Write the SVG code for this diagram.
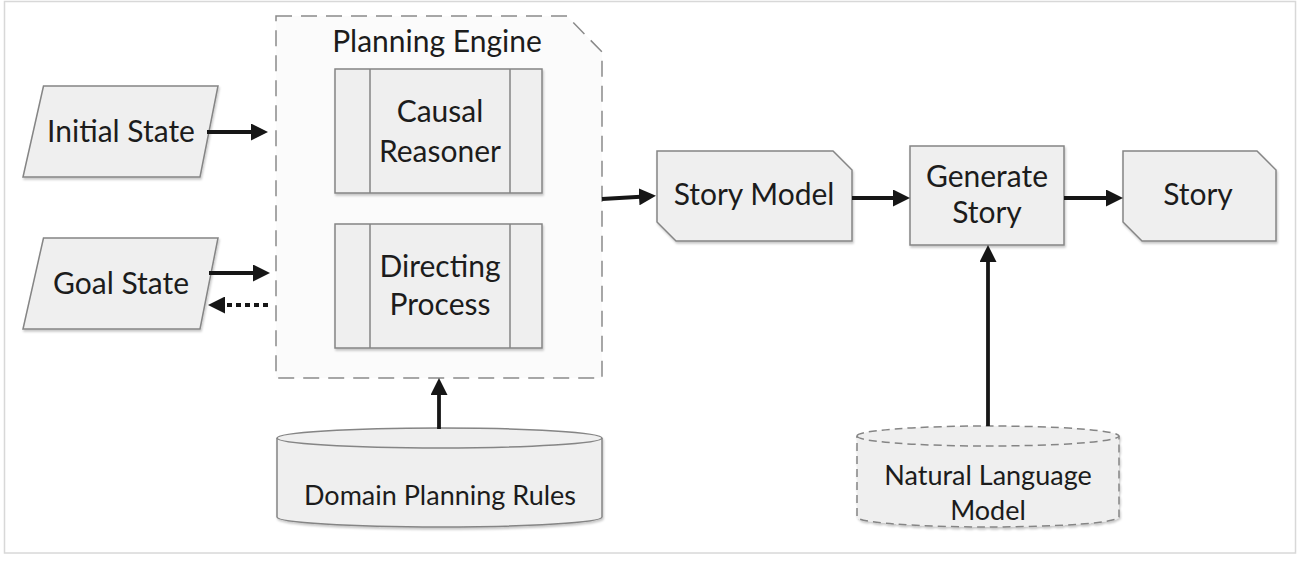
<svg xmlns="http://www.w3.org/2000/svg" width="1300" height="569" viewBox="0 0 1300 569">
  <defs>
    <filter id="shadow" x="-5%" y="-5%" width="110%" height="120%">
      <feDropShadow dx="1" dy="2" stdDeviation="1.2" flood-color="#000" flood-opacity="0.22"/>
    </filter>
    <marker id="arrow" viewBox="0 0 17 17" refX="6" refY="8.5" markerWidth="17" markerHeight="17" markerUnits="userSpaceOnUse" orient="auto">
      <path d="M0,0 L17,8.5 L0,17 Z" fill="#161616"/>
    </marker>
  </defs>
  <style>
    .shape { fill: #efefef; stroke: #858585; stroke-width: 1.5; }
    .engine { fill: #fbfbfb; stroke: #8a8a8a; stroke-width: 1.5; stroke-dasharray: 16 9; }
    .nlm { fill: #efefef; stroke: #858585; stroke-width: 1.5; stroke-dasharray: 8 5; }
    .divider { fill: none; stroke: #858585; stroke-width: 1.5; }
    .label { font-family: Lato, "Open Sans", "Liberation Sans", sans-serif; font-size: 30px; fill: #1c1c1c; text-anchor: middle; }
    .small { font-size: 27px; }
    .conn { fill: none; stroke: #161616; stroke-width: 3.8; marker-end: url(#arrow); }
    .dashed { stroke-dasharray: 5 4; }
  </style>
  <rect x="0" y="0" width="1300" height="569" fill="#ffffff"/>
  <rect x="4.5" y="1.5" width="1291" height="551.5" fill="none" stroke="#d8d8d8" stroke-width="1.5"/>

  <g id="planning-engine">
    <path class="engine" d="M276,16 L567,16 L602,52 L602,378 L276,378 Z"/>
    <text class="label" x="437" y="52">Planning Engine</text>
  </g>

  <g id="causal-reasoner">
    <rect class="shape" filter="url(#shadow)" x="335" y="69" width="207" height="124"/>
    <path class="divider" d="M370,69 L370,193 M510,69 L510,193"/>
    <text class="label" x="440" y="122">Causal</text>
    <text class="label" x="440" y="162">Reasoner</text>
  </g>

  <g id="directing-process">
    <rect class="shape" filter="url(#shadow)" x="335" y="224" width="207" height="124"/>
    <path class="divider" d="M370,224 L370,348 M510,224 L510,348"/>
    <text class="label" x="440" y="277">Directing</text>
    <text class="label" x="440" y="315">Process</text>
  </g>

  <g id="initial-state">
    <path class="shape" filter="url(#shadow)" d="M43.5,86 L218,86 L200,177 L23,177 Z"/>
    <text class="label" x="121" y="142">Initial State</text>
  </g>

  <g id="goal-state">
    <path class="shape" filter="url(#shadow)" d="M43.5,238 L218,238 L200,329 L23,329 Z"/>
    <text class="label" x="121" y="294">Goal State</text>
  </g>

  <g id="story-model">
    <path class="shape" filter="url(#shadow)" d="M657,151 L833,151 L852,170 L852,241 L676,241 L657,222 Z"/>
    <text class="label" x="754" y="205">Story Model</text>
  </g>

  <g id="generate-story">
    <rect class="shape" filter="url(#shadow)" x="910" y="146" width="154" height="99"/>
    <text class="label" x="987" y="187">Generate</text>
    <text class="label" x="987" y="223">Story</text>
  </g>

  <g id="story">
    <path class="shape" filter="url(#shadow)" d="M1123,151 L1257,151 L1276,170 L1276,241 L1142,241 L1123,222 Z"/>
    <text class="label" x="1198" y="205">Story</text>
  </g>

  <g id="domain-planning-rules">
    <path class="shape" filter="url(#shadow)" d="M277,438 A162.5,10 0 0 1 602,438 L602,517 A162.5,10 0 0 1 277,517 Z"/>
    <path class="divider" d="M277,438 A162.5,10 0 0 0 602,438"/>
    <text class="label small" x="440" y="505">Domain Planning Rules</text>
  </g>

  <g id="natural-language-model">
    <path class="nlm" filter="url(#shadow)" d="M857,436 A131,10 0 0 1 1119,436 L1119,517 A131,10 0 0 1 857,517 Z"/>
    <path class="nlm" style="fill:none" d="M857,436 A131,10 0 0 0 1119,436"/>
    <text class="label small" x="988" y="485">Natural Language</text>
    <text class="label small" x="988" y="520">Model</text>
  </g>

  <g id="connectors">
    <path class="conn" d="M207,132 L257,132"/>
    <path class="conn" d="M209,273 L259,273"/>
    <path class="conn dashed" d="M268,305 L219,305"/>
    <path class="conn" d="M602,199 L645,196.5"/>
    <path class="conn" d="M852,198 L899,198"/>
    <path class="conn" d="M1064,198 L1112,198"/>
    <path class="conn" d="M439,429 L439,389"/>
    <path class="conn" d="M988,426 L988,256"/>
  </g>
</svg>
